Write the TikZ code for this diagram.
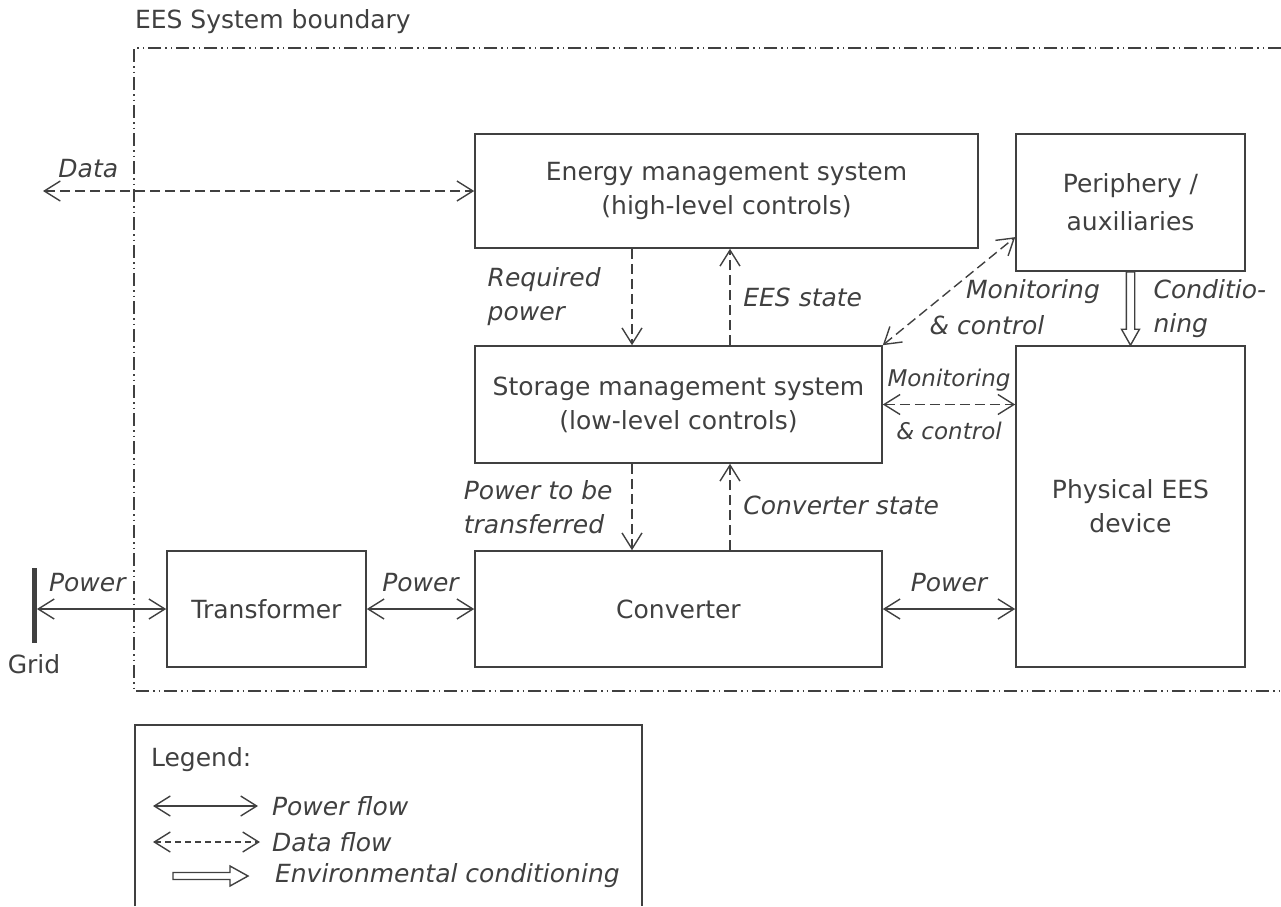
\documentclass[tikz,border=0pt]{standalone}
\usepackage{fontspec}
\setmainfont{DejaVu Sans}
\usepackage{xcolor}
\usetikzlibrary{calc, arrows.meta, positioning}
\definecolor{ink}{RGB}{64,64,64}

\begin{document}
\begin{tikzpicture}[x=0.5pt, y=-0.5pt,
    every node/.style={text=ink, font=\fontsize{12.5}{17}\selectfont},
    >={Straight Barb[length=8pt, width=10pt]},
    block/.style={draw=ink, line width=0.8pt, align=center},
    pwr/.style={draw=ink, line width=0.7pt, <->},
    dat/.style={draw=ink, line width=0.7pt, dash pattern=on 5pt off 2.5pt},
    hollow/.style={draw=ink, line width=0.7pt, fill=white},
    bound/.style={draw=ink, line width=0.7pt,
      dash pattern=on 6.5pt off 2pt on 0.75pt off 2pt on 0.75pt off 2pt},
    lbl/.style={font=\fontsize{12.5}{17}\selectfont\itshape},
    sml/.style={font=\fontsize{11.5}{15}\selectfont\itshape}]
  \useasboundingbox (0,0) rectangle (1281,906);

  % system boundary
  \draw[bound] (1281,48) -- (134,48) -- (134,691) -- (1281,691);
  \node[anchor=west] (title) at (128,22) {EES System boundary};

  % blocks
  \node[block, minimum width=251.5pt, minimum height=57pt] (ems) at (726.5,191)
    {Energy management system\\(high-level controls)};
  \node[block, minimum width=114.5pt, minimum height=68.5pt] (peri) at (1130.5,202.5)
    {Periphery /\\[2pt]auxiliaries};
  \node[block, minimum width=203.5pt, minimum height=58.5pt] (sms) at (678.5,404.5)
    {Storage management system\\(low-level controls)};
  \node[block, minimum width=114.5pt, minimum height=160.5pt] (phys) at (1130.5,506.5)
    {Physical EES\\device};
  \node[block, minimum width=99.5pt, minimum height=58pt] (trafo) at (266.5,609) {Transformer};
  \node[block, minimum width=203.5pt, minimum height=58pt] (conv) at (678.5,609) {Converter};

  % grid
  \node[fill=ink, inner sep=0, minimum width=2.5pt, minimum height=37.5pt] (grid) at (34,605.5) {};
  \node[below=2pt of grid] (gridlbl) {Grid};

  % power flow
  \draw[pwr] (grid.east |- trafo.west) -- node[lbl, above=5pt, pos=0.39] {Power} (trafo.west);
  \draw[pwr] (trafo.east) -- node[lbl, above=5pt] {Power} (conv.west);
  \draw[pwr] (conv.east) -- node[lbl, above=5pt] {Power} (conv.east -| phys.west);

  % data flow
  \coordinate (datafar) at (43,191);
  \coordinate (reqx) at (632,0);
  \coordinate (stx) at (730,0);
  \draw[dat, <->] (datafar) -- node[lbl, above=3pt, pos=0.105] {Data} (ems.west);
  \draw[dat, ->] (ems.south -| reqx) -- node[lbl, left, align=left, xshift=-12pt] {Required\\power} (sms.north -| reqx);
  \draw[dat, ->] (sms.north -| stx) -- node[lbl, right, xshift=3pt] {EES state} (ems.south -| stx);
  \draw[dat, ->] (sms.south -| reqx) -- node[lbl, left, align=left, xshift=-6pt] {Power to be\\transferred} (conv.north -| reqx);
  \draw[dat, ->] (conv.north -| stx) -- node[lbl, right, xshift=3pt, yshift=1pt] {Converter state} (sms.south -| stx);
  \draw[dat, <->] (sms.north east) -- ($(peri.west)!0.5!(peri.south west)$);
  \node[lbl] (mon1) at (1033,292) {Monitoring};
  \node[lbl] (mon2) at (987,325) {\& control};
  \draw[dat, <->] (sms.east) -- node[sml, above=3pt] {Monitoring} node[sml, below=5pt] {\& control} (sms.east -| phys.west);

  % environmental conditioning
  \draw[hollow] ([xshift=-2.1pt]peri.south) -- ([xshift=-2.1pt, yshift=8pt]phys.north)
    -- ([xshift=-4.5pt, yshift=8pt]phys.north) -- (phys.north)
    -- ([xshift=4.5pt, yshift=8pt]phys.north) -- ([xshift=2.1pt, yshift=8pt]phys.north)
    -- ([xshift=2.1pt]peri.south) -- cycle;
  \node[lbl, right, align=left, xshift=8pt] (condlbl) at ($(peri.south)!0.5!(phys.north)$) {Conditio-\\ning};

  % legend
  \draw[draw=ink, line width=0.8pt] (135,906) |- (642,725) -- (642,906);
  \node[anchor=west] (legend) at (144,760) {Legend:};
  \node[lbl, anchor=west] (lpow) at (265,806) {Power flow};
  \node[lbl, anchor=west] (ldat) at (265,842) {Data flow};
  \node[lbl, anchor=west] (lenv) at (268,876) {Environmental conditioning};
  \coordinate (lpow0) at (153,806);
  \coordinate (lpow1) at (258,806);
  \coordinate (ldat0) at (153,842);
  \coordinate (ldat1) at (260,842);
  \draw[pwr] (lpow0) -- (lpow1);
  \draw[dat, <->, dash pattern=on 3pt off 2pt] (ldat0) -- (ldat1);
  \draw[hollow] (173,872.5) -- (230,872.5) -- (230,866) -- (248,876) -- (230,886) -- (230,879.5)
    -- (173,879.5) -- cycle;
\end{tikzpicture}
\end{document}
